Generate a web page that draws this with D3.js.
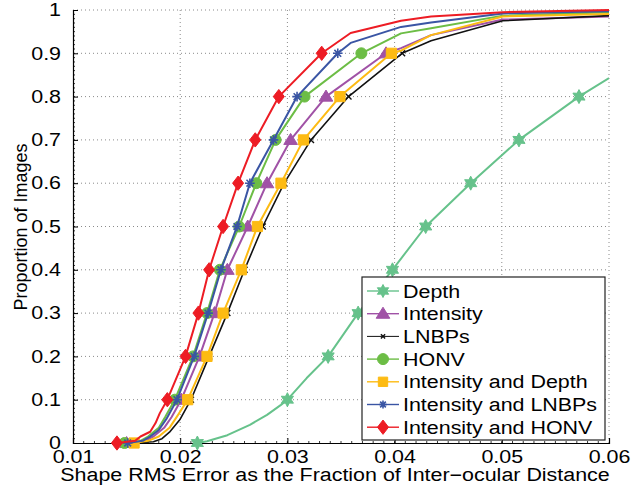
<!DOCTYPE html>
<html>
<head>
<meta charset="utf-8">
<script src="https://cdn.jsdelivr.net/npm/d3@7"></script>
<style>
  body { margin: 0; background: #fff; }
  text { font-family: "Liberation Sans", Arial, Helvetica, sans-serif; fill: #000; }
</style>
</head>
<body>
<svg id="chart" width="643" height="486"></svg>
<script>
// DATA
var xTicks = [0.01, 0.02, 0.03, 0.04, 0.05, 0.06];
var yTicks = [0, 0.1, 0.2, 0.3, 0.4, 0.5, 0.6, 0.7, 0.8, 0.9, 1];
var markerLevels = [0, 0.1, 0.2, 0.3, 0.4, 0.5, 0.6, 0.7, 0.8, 0.9];

var names = ["Depth", "Intensity", "LNBPs", "HONV", "Intensity and Depth", "Intensity and LNBPs", "Intensity and HONV"];
var colors = ["#66c28b", "#a052a6", "#111111", "#6cbd45", "#fdbb13", "#3a55a4", "#ed1c24"];
var symbols = ["hexagram", "triangle", "cross", "circle", "square", "asterisk", "diamond"];

var depthPts = [[0.0216,0],[0.0225,0.004],[0.0244,0.018],[0.0265,0.042],[0.0281,0.065],[0.0294,0.088],[0.0300,0.1],
  [0.0318,0.15],[0.0338,0.2],[0.0366,0.3],[0.0398,0.4],[0.0429,0.5],[0.0471,0.6],[0.0516,0.7],[0.0572,0.8],[0.0600,0.843]];
var intensityPts = [[0.0150,0],[0.0167,0.005],[0.0175,0.015],[0.0185,0.035],[0.0192,0.06],[0.0201,0.1],[0.0218,0.2],
  [0.0232,0.3],[0.0244,0.4],[0.0263,0.5],[0.0281,0.6],[0.0303,0.7],[0.0336,0.8],[0.0392,0.9],[0.0406,0.912],
  [0.0434,0.942],[0.0501,0.978],[0.0600,0.985]];
var lnbpsPts = [[0.0153,0],[0.0175,0.003],[0.0183,0.01],[0.0190,0.025],[0.0200,0.055],[0.0210,0.1],[0.0227,0.2],
  [0.0244,0.3],[0.0260,0.4],[0.0277,0.5],[0.0297,0.6],[0.0322,0.7],[0.0357,0.8],[0.0407,0.9],[0.0434,0.929],
  [0.0501,0.975],[0.0600,0.987]];
var honvPts = [[0.0148,0],[0.0163,0.005],[0.0170,0.015],[0.0180,0.035],[0.0186,0.06],[0.0195,0.1],[0.0212,0.2],
  [0.0225,0.3],[0.0237,0.4],[0.0255,0.5],[0.0271,0.6],[0.0289,0.7],[0.0316,0.8],[0.0369,0.9],[0.0406,0.946],
  [0.0434,0.958],[0.0501,0.987],[0.0600,0.995]];
var intDepthPts = [[0.0157,0],[0.0170,0.005],[0.0180,0.015],[0.0190,0.035],[0.0198,0.065],[0.0207,0.1],[0.0225,0.2],
  [0.0240,0.3],[0.0257,0.4],[0.0272,0.5],[0.0294,0.6],[0.0315,0.7],[0.0349,0.8],[0.0397,0.9],[0.0406,0.906],
  [0.0434,0.942],[0.0501,0.985],[0.0600,0.991]];
var intLnbpsPts = [[0.0151,0],[0.0165,0.005],[0.0172,0.015],[0.0180,0.03],[0.0187,0.055],[0.0197,0.1],[0.0213,0.2],
  [0.0226,0.3],[0.0238,0.4],[0.0253,0.5],[0.0265,0.6],[0.0287,0.7],[0.0309,0.8],[0.0347,0.9],[0.0359,0.924],
  [0.0406,0.961],[0.0434,0.971],[0.0501,0.992],[0.0600,0.997]];
var intHonvPts = [[0.0141,0],[0.0158,0.005],[0.0163,0.015],[0.0172,0.026],[0.0177,0.046],[0.0181,0.069],[0.0188,0.1],
  [0.0205,0.2],[0.0217,0.3],[0.0227,0.4],[0.0240,0.5],[0.0254,0.6],[0.0270,0.7],[0.0292,0.8],[0.0332,0.9],
  [0.0359,0.947],[0.0406,0.975],[0.0434,0.985],[0.0501,0.995],[0.0600,1.0]];

var seriesPts = [depthPts, intensityPts, lnbpsPts, honvPts, intDepthPts, intLnbpsPts, intHonvPts];

// LAYOUT
var margin = {top: 10, right: 34, bottom: 43, left: 73};
var width = 643 - margin.left - margin.right,
    height = 486 - margin.top - margin.bottom;
var stretchX = 1.19;   // the original figure's text is widened

// widen a text horizontally, keeping its anchor
function widen(sel) {
  sel.each(function() {
    var len = this.getComputedTextLength();
    d3.select(this).attr("textLength", len * stretchX).attr("lengthAdjust", "spacingAndGlyphs");
  });
}

var svg = d3.select("#chart").append("g")
    .attr("transform", "translate(" + margin.left + "," + margin.top + ")");

var x = d3.scaleLinear().domain([0.01, 0.06]).range([0, width]);
var y = d3.scaleLinear().domain([0, 1]).range([height, 0]);

// dotted grid
svg.append("g").selectAll("line").data(xTicks.slice(1)).enter().append("line")
    .attr("x1", d => x(d)).attr("x2", d => x(d)).attr("y1", 0).attr("y2", height)
    .attr("stroke", "#8a8a8a").attr("stroke-width", 1).attr("stroke-dasharray", "1,3");
svg.append("g").selectAll("line").data(yTicks.slice(1)).enter().append("line")
    .attr("x1", 0).attr("x2", width).attr("y1", d => y(d)).attr("y2", d => y(d))
    .attr("stroke", "#8a8a8a").attr("stroke-width", 1).attr("stroke-dasharray", "1,3");

// axes (ticks inward)
var xAxis = svg.append("g").attr("transform", "translate(0," + height + ")")
    .call(d3.axisBottom(x).tickValues(xTicks).tickSize(-5).tickFormat(d3.format(".2f")));
var yAxis = svg.append("g")
    .call(d3.axisLeft(y).tickValues(yTicks).tickSize(-5).tickPadding(12).tickFormat(d => d === 0 || d === 1 ? d : d3.format(".1f")(d)));
[xAxis, yAxis].forEach(function(a) {
  a.select(".domain").attr("stroke", "#000").attr("stroke-width", 1.2);
  a.selectAll(".tick line").attr("stroke", "#000");
  a.selectAll(".tick text").style("font-size", "18px").attr("fill", "#000");
});
xAxis.selectAll(".tick text").attr("y", 20).attr("dy", 0);
xAxis.selectAll(".tick text").call(widen);
yAxis.selectAll(".tick text").call(widen);
// the right end of the x axis has no solid tick
xAxis.selectAll(".tick").filter(d => d === 0.06).select("line").remove();

// minor ticks
svg.append("g").selectAll("line").data(d3.range(11, 60).map(d => d / 1000)).enter().append("line")
    .attr("x1", d => x(d)).attr("x2", d => x(d)).attr("y1", height).attr("y2", height - 2)
    .attr("stroke", "#000").attr("stroke-width", 0.8);
svg.append("g").selectAll("line").data(d3.range(1, 100).map(d => d / 100)).enter().append("line")
    .attr("x1", 0).attr("x2", 2).attr("y1", d => y(d)).attr("y2", d => y(d))
    .attr("stroke", "#000").attr("stroke-width", 0.8);

// axis titles
svg.append("text")
    .attr("x", 335 - margin.left).attr("y", height + 38)
    .attr("text-anchor", "middle").style("font-size", "18px")
    .text("Shape RMS Error as the Fraction of Inter\u2212ocular Distance")
    .call(widen);
svg.append("text")
    .attr("transform", "translate(" + (27 - margin.left) + "," + (227 - margin.top) + ") rotate(-90)")
    .attr("text-anchor", "middle").style("font-size", "18px")
    .text("Proportion of Images");

// marker shapes
function markerPath(sym, s) {
  if (sym === "hexagram") {
    var pts = [];
    for (var k = 0; k < 12; k++) {
      var r = k % 2 === 0 ? s : s * 0.55, a = Math.PI / 6 * k - Math.PI / 2;
      pts.push([r * Math.cos(a), r * Math.sin(a)]);
    }
    return "M" + pts.join("L") + "Z";
  }
  if (sym === "triangle") return "M0," + (-s) + "L" + (s * 1.05) + "," + (s * 0.7) + "L" + (-s * 1.05) + "," + (s * 0.7) + "Z";
  if (sym === "cross") { var c = s * 0.6; return "M" + (-c) + "," + (-c) + "L" + c + "," + c + "M" + (-c) + "," + c + "L" + c + "," + (-c); }
  if (sym === "circle") return "M" + s + ",0A" + s + "," + s + " 0 1,1 " + (-s) + ",0A" + s + "," + s + " 0 1,1 " + s + ",0Z";
  if (sym === "square") { var q = s * 0.85; return "M" + (-q) + "," + (-q) + "H" + q + "V" + q + "H" + (-q) + "Z"; }
  if (sym === "asterisk") {
    var p = "", t = s * 0.8;
    for (var j = 0; j < 4; j++) {
      var b = Math.PI / 4 * j;
      p += "M" + (-t * Math.cos(b)) + "," + (-t * Math.sin(b)) + "L" + (t * Math.cos(b)) + "," + (t * Math.sin(b));
    }
    return p;
  }
  if (sym === "diamond") return "M0," + (-s * 1.1) + "L" + (s * 0.85) + ",0L0," + (s * 1.1) + "L" + (-s * 0.85) + ",0Z";
}
function styleMarker(sel, i) {
  var sym = symbols[i];
  if (sym === "cross" || sym === "asterisk") {
    sel.attr("fill", "none").attr("stroke", colors[i]).attr("stroke-width", sym === "cross" ? 1.4 : 1.6);
  } else {
    sel.attr("fill", colors[i]).attr("stroke", colors[i]).attr("stroke-width", 1);
  }
}

svg.append("clipPath").attr("id", "plotclip").append("rect")
    .attr("x", -8).attr("y", -8).attr("width", width + 8).attr("height", height + 16);

var line = d3.line().x(d => x(d[0])).y(d => y(d[1]));
var plot = svg.append("g").attr("clip-path", "url(#plotclip)");

seriesPts.forEach(function(pts, i) {
  plot.append("path").datum(pts)
      .attr("d", line).attr("fill", "none")
      .attr("stroke", colors[i]).attr("stroke-width", i === 2 ? 1.6 : 2)
      .attr("stroke-linejoin", "round");
  var marks = pts.filter(d => markerLevels.indexOf(d[1]) >= 0);
  var size = {hexagram: 7, triangle: 6.5, cross: 5, circle: 5.5, square: 6, asterisk: 6, diamond: 6.5}[symbols[i]];
  plot.append("g").selectAll("path").data(marks).enter().append("path")
      .attr("transform", d => "translate(" + x(d[0]) + "," + y(d[1]) + ")")
      .attr("d", markerPath(symbols[i], size))
      .call(styleMarker, i);
});

// legend
var lg = svg.append("g").attr("transform", "translate(" + (362 - margin.left) + "," + (277 - margin.top) + ")");
lg.append("rect").attr("width", 243).attr("height", 163)
    .attr("fill", "#fff").attr("stroke", "#222").attr("stroke-width", 1.2);
names.forEach(function(n, i) {
  var gy = 14 + i * 22.7;
  var row = lg.append("g").attr("transform", "translate(0," + gy + ")");
  row.append("line").attr("x1", 5).attr("x2", 37).attr("y1", 0).attr("y2", 0)
      .attr("stroke", colors[i]).attr("stroke-width", i === 2 ? 1 : 1.4);
  var size = {hexagram: 6.5, triangle: 6.5, cross: 3.5, circle: 5.5, square: 5.5, asterisk: 5, diamond: 6.5}[symbols[i]];
  row.append("path").attr("transform", "translate(21,0)")
      .attr("d", markerPath(symbols[i], size)).call(styleMarker, i);
  row.append("text").attr("x", 41).attr("y", 6.5).style("font-size", "18px").text(n).call(widen);
});
</script>
</body>
</html>
